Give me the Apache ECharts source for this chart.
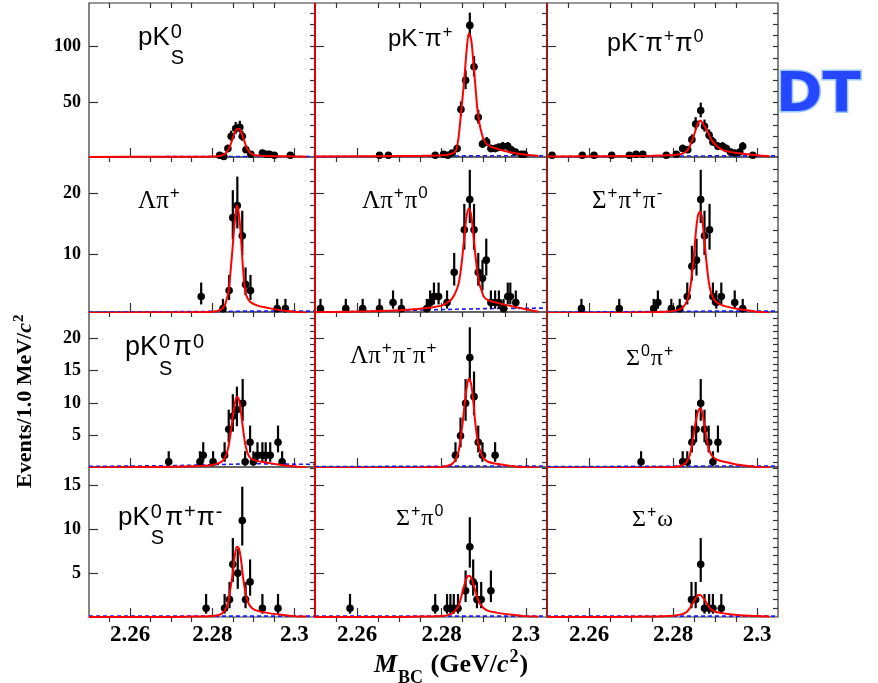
<!DOCTYPE html>
<html><head><meta charset="utf-8">
<script src="https://cdn.jsdelivr.net/npm/echarts@6/dist/echarts.min.js"></script>
<style>html,body{margin:0;padding:0;background:#fff}#c{width:878px;height:683px}</style>
</head><body><div id="c"></div><script>
// ---------- data ----------
const xTickLabels = [2.26, 2.28, 2.30];
const xMinorTicks = [2.255, 2.265, 2.27, 2.275, 2.285, 2.29, 2.295];
const yMajorTicks = [[50, 100], [10, 20], [5, 10, 15, 20], [5, 10, 15]];
const curveX = [2.25, 2.265, 2.275, 2.28, 2.282, 2.283, 2.2835, 2.284, 2.2845, 2.285, 2.2855, 2.286, 2.2865, 2.287, 2.2875, 2.288, 2.2885, 2.289, 2.2895, 2.29, 2.291, 2.293, 2.296, 2.3, 2.303];
const bgX = [2.25, 2.27, 2.29, 2.305];

// pK0S
const p1X = [2.2818, 2.2828, 2.2838, 2.2846, 2.2857, 2.2867, 2.2873, 2.2882, 2.2894, 2.2922, 2.2932, 2.2939, 2.2951, 2.2990];
const p1Y = [3, 2, 9, 20, 27, 28, 20, 8, 4, 5, 4, 4, 3, 3];
const p1Fit = [1.6, 1.7, 1.8, 2.0, 2.6, 4, 6, 8.5, 13, 18.5, 23.5, 26.5, 26.8, 24, 19, 13.5, 9, 6, 4.5, 3.5, 2.8, 2.4, 2.2, 2.0, 1.8];
const p1Bg = [1.7, 1.8, 2.0, 2.0];
// pK-pi+
const p2X = [2.2653, 2.2674, 2.2785, 2.2805, 2.2815, 2.2825, 2.2837, 2.2846, 2.2857, 2.2867, 2.2877, 2.2887, 2.2897, 2.2907, 2.2917, 2.2927, 2.2935, 2.2945, 2.2957, 2.2965, 2.2975, 2.2989, 2.2996];
const p2Y = [3, 3, 3, 4, 3, 5, 9, 44, 70, 119, 82, 37, 13, 15, 9, 9, 10, 11, 11, 8, 6, 4, 4];
const p2Fit = [2, 2.2, 2.5, 3, 4, 5.5, 8, 18, 36, 55, 76, 99, 112, 107, 88, 66, 44, 31, 23, 17, 12, 9, 6, 3.5, 2.5];
const p2Bg = [1.8, 2.0, 2.6, 2.6];
// pK-pi+pi0
const p3X = [2.2512, 2.2584, 2.2612, 2.2654, 2.2696, 2.2712, 2.2728, 2.2784, 2.2808, 2.2823, 2.2835, 2.2845, 2.2854, 2.2866, 2.2875, 2.2886, 2.2895, 2.2907, 2.2918, 2.2927, 2.2937, 2.2947, 2.2959, 2.2966, 2.2990];
const p3Y = [3, 3, 3, 3, 3, 4, 4, 3, 4, 9, 8, 17, 31, 43, 29, 21, 15, 11, 11, 9, 6, 5, 6, 11, 3];
const p3Fit = [2, 2.2, 2.6, 3.3, 4.2, 6, 8, 11, 16, 21, 27, 32, 34, 32, 29, 26, 22, 18, 15, 13, 9.5, 6.5, 4.8, 3, 2.2];
const p3Bg = [1.9, 2.1, 2.5, 2.5];
// Lambda pi+
const p4X = [2.2773, 2.2826, 2.2841, 2.2850, 2.2861, 2.2873, 2.2881, 2.2893, 2.2958, 2.2978];
const p4Y = [3, 1, 4, 16, 18, 13, 5, 4, 1, 1];
const p4Fit = [0.3, 0.35, 0.4, 0.5, 0.8, 1.5, 2.5, 4, 7.5, 11.5, 15.5, 18, 16.5, 12.5, 7.5, 4, 2.8, 2.3, 2, 1.8, 1.5, 1.2, 0.8, 0.5, 0.3];
const p4Bg = [0.4, 0.5, 0.6, 0.6];
// Lambda pi+ pi0
const p5X = [2.2513, 2.2573, 2.2613, 2.2653, 2.2685, 2.2705, 2.2765, 2.2773, 2.2782, 2.2793, 2.2813, 2.2830, 2.2854, 2.2867, 2.2877, 2.2887, 2.2897, 2.2906, 2.2917, 2.2927, 2.2936, 2.2947, 2.2957, 2.2963, 2.2976];
const p5Y = [1, 1, 1, 1, 2, 1, 1, 2, 3, 3, 2, 7, 14, 19, 14, 7, 6, 9, 2, 2, 2, 1, 3, 3, 2];
const p5Fit = [0.4, 0.6, 1.0, 1.5, 2.3, 3.2, 4, 5, 7, 10, 13.5, 16.5, 17.5, 16.5, 13.5, 10, 7, 5, 4, 3, 2.4, 2, 1.5, 0.9, 0.5];
const p5Bg = [0.4, 0.7, 1.0, 1.1];
// Sigma+ pi+ pi-
const p6X = [2.2582, 2.2672, 2.2754, 2.2764, 2.2796, 2.2816, 2.2834, 2.2845, 2.2856, 2.2866, 2.2875, 2.2887, 2.2895, 2.2903, 2.2915, 2.2947, 2.2966];
const p6Y = [1, 1, 1, 2, 1, 1, 3, 8, 9, 19, 13, 14, 3, 2, 3, 2, 1];
const p6Fit = [0.3, 0.3, 0.4, 0.6, 1.0, 1.8, 2.6, 4, 6.5, 10, 14, 16.5, 17, 15.5, 12, 8.5, 5.5, 3.8, 2.9, 2.3, 1.8, 1.3, 0.9, 0.5, 0.3];
const p6Bg = [0.4, 0.5, 0.6, 0.6];
// pK0S pi0
const p7X = [2.2694, 2.2770, 2.2778, 2.2802, 2.2830, 2.2840, 2.2850, 2.2860, 2.2874, 2.2880, 2.2892, 2.2900, 2.2910, 2.2922, 2.2930, 2.2941, 2.2960, 2.2970];
const p7Y = [1, 1, 2, 1, 2, 6, 8, 9, 10, 1, 4, 1, 2, 2, 2, 2, 4, 1];
const p7Fit = [0.1, 0.2, 0.3, 0.5, 0.9, 1.5, 2.3, 3.5, 5.5, 8, 10, 11, 10.5, 8.5, 6, 3.8, 2.5, 1.8, 1.5, 1.3, 1.1, 0.9, 0.6, 0.3, 0.1];
const p7Bg = [0.3, 0.4, 0.7, 0.6];
// Lambda pi+ pi- pi+
const p8X = [2.2833, 2.2845, 2.2857, 2.2867, 2.2877, 2.2887, 2.2897, 2.2927];
const p8Y = [2, 5, 10, 17, 11, 4, 2, 2];
const p8Fit = [0.05, 0.05, 0.1, 0.2, 0.5, 1, 1.6, 2.5, 4.5, 7, 10, 12.5, 13.8, 13, 10.5, 7, 4.5, 3, 2.1, 1.5, 1, 0.7, 0.4, 0.15, 0.1];
const p8Bg = [0.25, 0.3, 0.35, 0.35];
// Sigma0 pi+
const p9X = [2.2724, 2.2823, 2.2834, 2.2845, 2.2855, 2.2866, 2.2875, 2.2885, 2.2895, 2.2907];
const p9Y = [1, 1, 1, 4, 6, 10, 6, 4, 1, 4];
const p9Fit = [0.05, 0.05, 0.1, 0.2, 0.4, 0.8, 1.3, 2, 3.5, 5.5, 7.5, 8.8, 9.2, 8.5, 6.5, 4.5, 3, 2.2, 1.8, 1.5, 1.2, 0.9, 0.5, 0.2, 0.1];
const p9Bg = [0.25, 0.3, 0.35, 0.35];
// pK0S pi+ pi-
const p10X = [2.2785, 2.2830, 2.2842, 2.2850, 2.2862, 2.2873, 2.2881, 2.2892, 2.2922, 2.2960];
const p10Y = [1, 1, 2, 6, 5, 11, 2, 4, 1, 1];
const p10Fit = [0, 0, 0.05, 0.1, 0.3, 0.7, 1.2, 2, 3.5, 5, 7, 8, 7.8, 6.5, 4.5, 3, 2, 1.4, 1.1, 0.9, 0.7, 0.5, 0.3, 0.1, 0.05];
const p10Bg = [0.1, 0.1, 0.1, 0.1];
// Sigma+ pi0
const p11X = [2.2583, 2.2785, 2.2813, 2.2821, 2.2829, 2.2839, 2.2857, 2.2867, 2.2875, 2.2884, 2.2894, 2.2917];
const p11Y = [1, 1, 1, 1, 1, 1, 3, 8, 4, 2, 2, 3];
const p11Fit = [0, 0, 0.05, 0.1, 0.3, 0.6, 0.9, 1.2, 2, 2.9, 3.8, 4.5, 4.7, 4.5, 3.8, 3, 2.2, 1.6, 1.3, 1, 0.7, 0.5, 0.3, 0.1, 0.05];
const p11Bg = [0.1, 0.1, 0.1, 0.1];
// Sigma+ omega
const p12X = [2.2844, 2.2854, 2.2866, 2.2875, 2.2886, 2.2895, 2.2915];
const p12Y = [2, 2, 6, 1, 1, 1, 1];
const p12Fit = [0, 0, 0.05, 0.15, 0.3, 0.5, 0.7, 1.0, 1.4, 1.8, 2.2, 2.5, 2.5, 2.3, 2.0, 1.6, 1.2, 0.9, 0.75, 0.6, 0.5, 0.35, 0.2, 0.1, 0.05];
const p12Bg = [0.1, 0.1, 0.1, 0.1];

const panels = [
  {x: p1X, y: p1Y, fit: p1Fit, bg: p1Bg}, {x: p2X, y: p2Y, fit: p2Fit, bg: p2Bg}, {x: p3X, y: p3Y, fit: p3Fit, bg: p3Bg},
  {x: p4X, y: p4Y, fit: p4Fit, bg: p4Bg}, {x: p5X, y: p5Y, fit: p5Fit, bg: p5Bg}, {x: p6X, y: p6Y, fit: p6Fit, bg: p6Bg},
  {x: p7X, y: p7Y, fit: p7Fit, bg: p7Bg}, {x: p8X, y: p8Y, fit: p8Fit, bg: p8Bg}, {x: p9X, y: p9Y, fit: p9Fit, bg: p9Bg},
  {x: p10X, y: p10Y, fit: p10Fit, bg: p10Bg}, {x: p11X, y: p11Y, fit: p11Fit, bg: p11Bg}, {x: p12X, y: p12Y, fit: p12Fit, bg: p12Bg}
];

// ---------- layout ----------
const colL = [89, 315, 547], colR = [315, 547, 778];
const rowT = [3, 157, 312, 467], rowB = [157, 312, 467, 617];
const yMin = [1.5, 0.45, 0.2, 0], yMax = [139, 26, 24, 17.1];
const yMinorStep = [10, 2, 1, 1];

const SANS = '"Liberation Sans", Arial, sans-serif';
const SERIF = '"Liberation Serif", "Times New Roman", serif';

const grids = [], xAxes = [], yAxes = [], series = [];
panels.forEach((p, i) => {
  const r = Math.floor(i / 3), c = i % 3;
  grids.push({left: colL[c], top: rowT[r], width: colR[c] - colL[c], height: rowB[r] - rowT[r],
    show: true, borderColor: '#333', borderWidth: 1.2, backgroundColor: 'transparent'});
  xAxes.push({type: 'value', gridIndex: i, min: 2.25, max: 2.305,
    axisLine: {show: false}, splitLine: {show: false}, axisLabel: {show: false},
    axisTick: {show: true, inside: true, length: 9, customValues: xTickLabels, lineStyle: {color: '#333', width: 1.2}}});
  xAxes.push({type: 'value', gridIndex: i, min: 2.25, max: 2.305,
    axisLine: {show: false}, splitLine: {show: false}, axisLabel: {show: false},
    axisTick: {show: true, inside: true, length: 5, customValues: xMinorTicks, lineStyle: {color: '#333', width: 1.2}}});
  const minors = [];
  for (let v = yMinorStep[r]; v < yMax[r]; v += yMinorStep[r]) if (v > yMin[r]) minors.push(+v.toFixed(3));
  yAxes.push({type: 'value', gridIndex: i, min: yMin[r], max: yMax[r],
    axisLine: {show: false}, splitLine: {show: false},
    axisTick: {show: true, inside: true, length: 9, customValues: yMajorTicks[r], lineStyle: {color: '#333', width: 1.2}},
    axisLabel: {show: c === 0, customValues: yMajorTicks[r], margin: 8,
      fontFamily: SERIF, fontWeight: 'bold', fontSize: 18, color: '#000'}});
  yAxes.push({type: 'value', gridIndex: i, min: yMin[r], max: yMax[r],
    axisLine: {show: false}, splitLine: {show: false}, axisLabel: {show: false},
    axisTick: {show: true, inside: true, length: 5, customValues: minors, lineStyle: {color: '#333', width: 1.2}}});

  const xi = 2 * i, yi = 2 * i;
  series.push({type: 'line', xAxisIndex: xi, yAxisIndex: yi, data: bgX.map((x, k) => [x, p.bg[k]]),
    symbol: 'none', lineStyle: {color: '#1a1aff', width: 1.6, type: [4, 3]}, z: 2, clip: true, silent: true});
  series.push({type: 'custom', xAxisIndex: xi, yAxisIndex: yi, z: 3, silent: true,
    data: p.x.map((x, k) => [x, p.y[k]]),
    renderItem: (params, api) => {
      const x = api.value(0), v = api.value(1);
      const up = 0.5 + Math.sqrt(v + 0.25), dn = Math.sqrt(v + 0.25) - 0.5;
      const cs = params.coordSys;
      const ctr = api.coord([x, v]), t = api.coord([x, v + up]), b = api.coord([x, v - dn]);
      const top = Math.max(t[1], cs.y), bot = Math.min(b[1], cs.y + cs.height);
      const ch = [];
      if (bot > top) ch.push({type: 'line', shape: {x1: ctr[0], y1: top, x2: ctr[0], y2: bot}, style: {stroke: '#000', lineWidth: 2.2}});
      if (ctr[1] >= cs.y && ctr[1] <= cs.y + cs.height) ch.push({type: 'circle', shape: {cx: ctr[0], cy: ctr[1], r: 3.8}, style: {fill: '#000'}});
      return {type: 'group', children: ch};
    }});
  series.push({type: 'line', xAxisIndex: xi, yAxisIndex: yi, data: curveX.map((x, k) => [x, p.fit[k]]),
    symbol: 'none', smooth: 0.35, lineStyle: {color: '#ff0000', width: 2}, z: 4, clip: true, silent: true});
});

// ---------- text helpers ----------
const mctx = document.createElement('canvas').getContext('2d');
function fontStr(fs, fam, bold, italic) { return (italic ? 'italic ' : '') + (bold ? 'bold ' : '') + fs + 'px ' + fam; }
function measure(t, f) { mctx.font = f; return mctx.measureText(t).width; }
function txt(x, baseline, t, f, fs) {
  return {type: 'text', x: x, y: baseline - 0.34 * fs, silent: true,
    style: {text: t, font: f, fill: '#000', align: 'left', verticalAlign: 'middle'}};
}
function formula(x0, base, parts, o) {
  const els = []; let x = 0;
  parts.forEach(p => {
    const t = p[0], k = p[1], it = p[2];
    if (k === 'n') {
      const f = fontStr(o.fs, o.fam, o.bold, it);
      els.push(txt(x, 0, t, f, o.fs)); x += measure(t, f);
    } else {
      const sfs = Math.round(o.fs * o.supR);
      const f = fontStr(sfs, o.supFam || o.fam, o.bold, it);
      if (k === 'sup') { els.push(txt(x + 1, -o.up, t, f, sfs)); x += measure(t, f) + 2; }
      else if (k === 'sub') { els.push(txt(x + 1, o.down, t, f, sfs)); x += measure(t, f) + 2; }
      else {
        const ab = t.split('|'); const fb = fontStr(sfs, o.subFam || o.supFam || o.fam, o.bold, it);
        els.push(txt(x + 1, -o.up, ab[0], f, sfs)); els.push(txt(x + 1, o.down, ab[1], fb, sfs));
        x += Math.max(measure(ab[0], f), measure(ab[1], fb)) + 2;
      }
    }
  });
  return {type: 'group', x: x0, y: base, rotation: o.rot || 0, z: 100, children: els};
}
const sansOpt = fs => ({fs: fs, fam: SANS, supR: 0.72, up: fs * 0.4, down: fs * 0.55});
const sansKs = fs => ({fs: fs, fam: SANS, supR: 0.75, up: fs * 0.28, down: fs * 0.72});
const serifOpt = fs => ({fs: fs, fam: SERIF, supR: 0.68, up: fs * 0.42, down: fs * 0.3, supFam: SANS});

const labels = [
  formula(138, 47, [['pK', 'n'], ['0|S', 'ss']], sansKs(26)),
  formula(388, 48, [['pK', 'n'], ['-', 'sup'], ['π', 'n'], ['+', 'sup']], sansOpt(24)),
  formula(607, 53, [['pK', 'n'], ['-', 'sup'], ['π', 'n'], ['+', 'sup'], ['π', 'n'], ['0', 'sup']], sansOpt(25)),
  formula(138, 210, [['Λπ', 'n'], ['+', 'sup']], serifOpt(25)),
  formula(362, 210, [['Λπ', 'n'], ['+', 'sup'], ['π', 'n'], ['0', 'sup']], serifOpt(25)),
  formula(592, 210, [['Σ', 'n'], ['+', 'sup'], ['π', 'n'], ['+', 'sup'], ['π', 'n'], ['-', 'sup']], serifOpt(25)),
  formula(125, 357, [['pK', 'n'], ['0|S', 'ss'], ['π', 'n'], ['0', 'sup']], sansKs(27)),
  formula(350, 365, [['Λπ', 'n'], ['+', 'sup'], ['π', 'n'], ['-', 'sup'], ['π', 'n'], ['+', 'sup']], serifOpt(25)),
  formula(626, 367, [['Σ', 'n'], ['0', 'sup'], ['π', 'n'], ['+', 'sup']], serifOpt(24)),
  formula(118, 527, [['pK', 'n'], ['0|S', 'ss'], ['π', 'n'], ['+', 'sup'], ['π', 'n'], ['-', 'sup']], sansKs(26)),
  formula(396, 527, [['Σ', 'n'], ['+', 'sup'], ['π', 'n'], ['0', 'sup']], serifOpt(24)),
  formula(632, 528, [['Σ', 'n'], ['+', 'sup'], ['ω', 'n']], serifOpt(24))
];
const boldSerif = fs => ({fs: fs, fam: SERIF, bold: true, supR: 0.7, up: fs * 0.4, down: fs * 0.42});
const xTitle = formula(374, 674, [['M', 'n', true], ['BC', 'sub'], [' (GeV/', 'n'], ['c', 'n', true], ['2', 'sup'], [')', 'n']], boldSerif(26));
const yTitle = formula(33, 488, [['Events/1.0 MeV/', 'n'], ['c', 'n', true], ['2', 'sup']], Object.assign(boldSerif(22), {rot: Math.PI / 2}));

const chart = echarts.init(document.getElementById('c'));
chart.setOption({animation: false, backgroundColor: '#fff', grid: grids, xAxis: xAxes, yAxis: yAxes, series: series});

// x tick labels of the bottom row, placed through the axis scale
const xLabelEls = [];
[9, 10, 11].forEach(gi => {
  xTickLabels.forEach(v => {
    const px = chart.convertToPixel({xAxisIndex: 2 * gi}, v);
    xLabelEls.push({type: 'text', x: px, y: 635, z: 100, silent: true,
      style: {text: String(Math.round(v * 100) / 100), font: 'bold 23px ' + SERIF, fill: '#000', align: 'center', verticalAlign: 'middle'}});
  });
});

const graphics = labels.concat(xLabelEls, [xTitle, yTitle,
  {type: 'line', z: 50, shape: {x1: 315, y1: 3, x2: 315, y2: 617}, style: {stroke: '#e00000', lineWidth: 2}},
  {type: 'line', z: 50, shape: {x1: 547, y1: 3, x2: 547, y2: 617}, style: {stroke: '#a01818', lineWidth: 2}},
  {type: 'text', x: 776, y: 68, z: 100, style: {text: 'DT', font: 'bold 56px "DejaVu Sans", sans-serif', fill: '#2447ff',
    stroke: '#9cc6ff', lineWidth: 3, shadowColor: '#8fb8ff', shadowBlur: 8}}
]);
chart.setOption({graphic: graphics});
</script></body></html>
